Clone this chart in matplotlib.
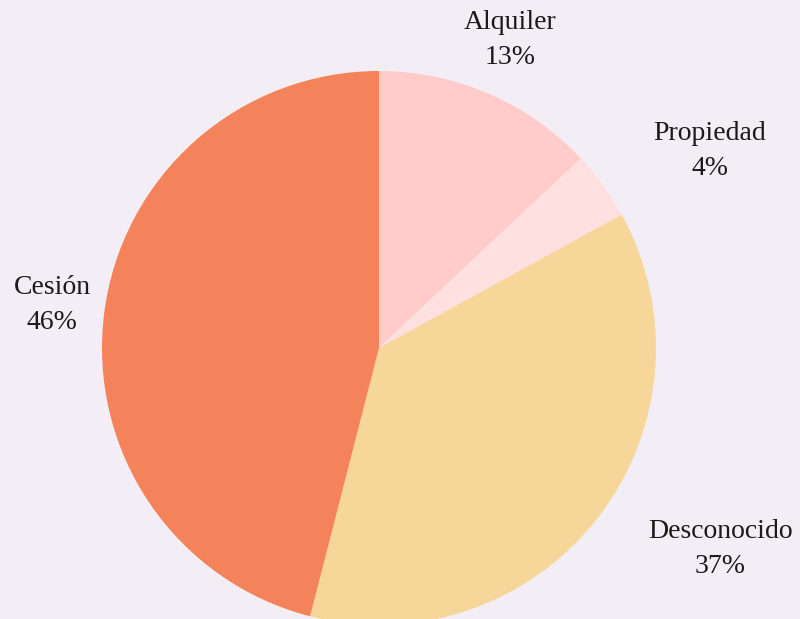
import matplotlib.pyplot as plt
import numpy as np

labels = ["Alquiler", "Propiedad", "Desconocido", "Cesión"]
valores = [13, 4, 37, 46]
colores = ["#FFCCCB", "#FFE0E1", "#F6D699", "#F4825A"]

# posicion de las etiquetas (distancia relativa al radio, angulo en grados)
pos_etiquetas = [(1.208, 67.0), (1.39, 30.8), (1.43, -30.5), (1.19, 172.5)]

fondo = "#F3EEF6"
centro = (379, 271)
radio = 277

fig = plt.figure(figsize=(8, 6.19), dpi=100, facecolor=fondo)
ax = fig.add_axes([0, 0, 1, 1])
ax.set_facecolor(fondo)

ax.pie(valores, colors=colores, startangle=90, counterclock=False,
       center=centro, radius=radio, wedgeprops=dict(linewidth=0))

for lab, v, (d, ang) in zip(labels, valores, pos_etiquetas):
    x = centro[0] + d * radio * np.cos(np.radians(ang))
    y = centro[1] + d * radio * np.sin(np.radians(ang))
    ax.text(x, y, f"{lab}\n{v}%", ha="center", va="center",
            fontsize=20, family="Liberation Serif", color="#1a1a1a",
            linespacing=1.5)

ax.set_xlim(0, 800)
ax.set_ylim(0, 619)
ax.set_aspect("equal")
ax.axis("off")

fig.savefig("out.png", dpi=100, facecolor=fondo)
